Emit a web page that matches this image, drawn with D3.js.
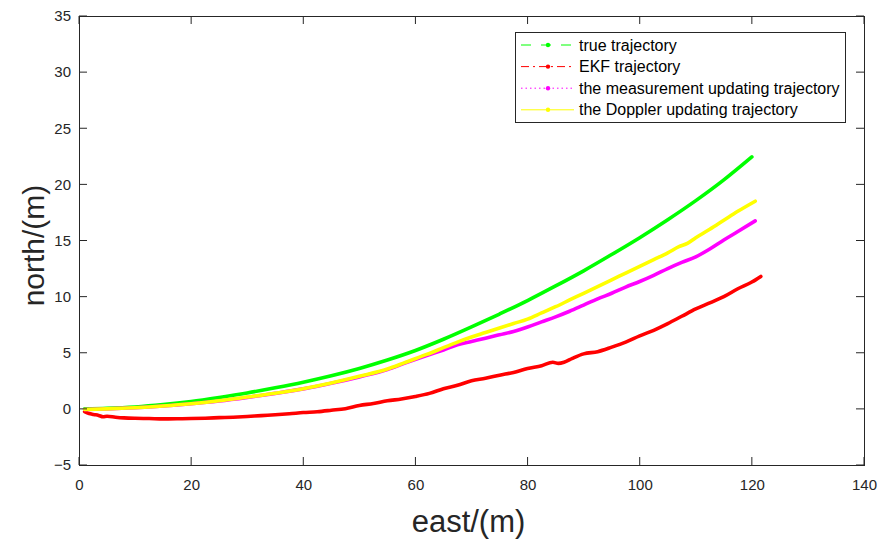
<!DOCTYPE html>
<html>
<head>
<meta charset="utf-8">
<script src="https://cdn.jsdelivr.net/npm/d3@7"></script>
<style>
  html, body { margin: 0; padding: 0; background: #fff; }
  svg { display: block; font-family: "Liberation Sans", Arial, sans-serif; }
</style>
</head>
<body>
<div id="traj"></div>
<script>
// ===== data =====
const trueEast  = [1, 5, 10, 15, 20, 25, 30, 35, 40, 45, 50, 55, 60, 65, 70, 75, 80, 85, 90, 95, 100, 105, 110, 115, 120];
const trueNorth = [0, 0.05, 0.17, 0.38, 0.66, 1.02, 1.42, 1.88, 2.38, 2.95, 3.6, 4.35, 5.2, 6.2, 7.3, 8.45, 9.65, 10.95, 12.3, 13.75, 15.25, 16.85, 18.55, 20.4, 22.45];

const ekfEast  = [1, 1.8, 2.6, 3.5, 4.3, 5, 6.5, 8, 10, 12.5, 15, 17.5, 20, 22.5, 25, 27.5, 30, 32.5, 35, 37.5, 40, 42.5, 45, 47.5, 50, 52.5, 55, 57.5, 60, 62.5, 65, 67.5, 70, 72.5, 75, 77.5, 80, 82.5, 84.5, 85.5, 86.5, 88, 90, 92.5, 95, 97.5, 100, 102.5, 105, 107.5, 110, 112.5, 115, 117.5, 120, 121.6];
const ekfNorth = [-0.25, -0.42, -0.5, -0.58, -0.7, -0.66, -0.74, -0.8, -0.84, -0.86, -0.89, -0.88, -0.86, -0.83, -0.78, -0.74, -0.68, -0.6, -0.53, -0.44, -0.33, -0.25, -0.12, 0.02, 0.3, 0.48, 0.72, 0.88, 1.1, 1.38, 1.8, 2.1, 2.5, 2.72, 3.0, 3.25, 3.6, 3.85, 4.15, 4.05, 4.15, 4.5, 4.9, 5.1, 5.5, 5.95, 6.5, 7.0, 7.6, 8.25, 8.9, 9.45, 10.0, 10.7, 11.3, 11.8];

const measEast  = [1, 5, 10, 15, 20, 25, 30, 35, 40, 45, 50, 55, 58, 62, 65, 67.5, 70, 72.5, 75, 77.5, 80, 82.5, 85, 87.5, 90, 92.5, 95, 97.5, 100, 102.5, 105, 107.5, 110, 112.5, 115, 117.5, 120.6];
const measNorth = [-0.05, 0.0, 0.1, 0.25, 0.45, 0.7, 1.02, 1.38, 1.78, 2.28, 2.85, 3.5, 4.05, 4.75, 5.25, 5.7, 6.0, 6.3, 6.6, 6.9, 7.3, 7.75, 8.2, 8.7, 9.25, 9.8, 10.3, 10.85, 11.35, 11.9, 12.5, 13.05, 13.55, 14.25, 15.05, 15.8, 16.75];

const dopEast  = [1, 5, 10, 15, 20, 25, 30, 35, 40, 45, 50, 55, 58, 62, 65, 67.5, 70, 72.5, 75, 77.5, 80, 82.5, 85, 87.5, 90, 92.5, 95, 97.5, 100, 102.5, 105, 107, 108.5, 110, 112.5, 115, 117.5, 120.6];
const dopNorth = [-0.05, 0.0, 0.1, 0.25, 0.45, 0.72, 1.05, 1.4, 1.8, 2.3, 2.9, 3.55, 4.1, 4.85, 5.45, 5.95, 6.4, 6.8, 7.2, 7.6, 8.0, 8.55, 9.1, 9.7, 10.3, 10.9, 11.5, 12.1, 12.7, 13.3, 13.9, 14.45, 14.75, 15.25, 16.0, 16.8, 17.6, 18.5];

const seriesNames  = ["true trajectory", "EKF trajectory", "the measurement updating trajectory", "the Doppler updating trajectory"];
const seriesColors = ["#00ff00", "#ff0000", "#ff00ff", "#ffff00"];
const seriesDash   = ["10,10", "8,4,2,4", "1.5,3", null];

const xTicks = [0, 20, 40, 60, 80, 100, 120, 140];
const yTicks = [-5, 0, 5, 10, 15, 20, 25, 30, 35];

(function () {
    const W = 881, H = 543;
    const PLOT = { left: 79, top: 16, right: 864, bottom: 465 };
    const TICK = 8;
    const AX = "#262626";

    const svg = d3.select("#traj").append("svg").attr("width", W).attr("height", H);

    const x = d3.scaleLinear().domain([0, 140]).range([PLOT.left, PLOT.right]);
    const y = d3.scaleLinear().domain([-5, 35]).range([PLOT.bottom, PLOT.top]);

    // ---- curves ----
    const series = [
        d3.zip(trueEast, trueNorth),
        d3.zip(ekfEast, ekfNorth),
        d3.zip(measEast, measNorth),
        d3.zip(dopEast, dopNorth)
    ];
    const line = d3.line().x(d => x(d[0])).y(d => y(d[1])).curve(d3.curveMonotoneX);

    const plot = svg.append("g");
    series.forEach((s, i) => {
        plot.append("path")
            .datum(s)
            .attr("d", line)
            .attr("fill", "none")
            .attr("stroke", seriesColors[i])
            .attr("stroke-width", 3.6)
            .attr("stroke-linecap", "round")
            .attr("stroke-linejoin", "round");
    });

    // ---- axes (box with inward ticks) ----
    const axes = svg.append("g").attr("fill", AX);

    const bottom = d3.axisBottom(x).tickValues(xTicks).tickSize(0).tickPadding(14);
    axes.append("g").attr("transform", `translate(0,${PLOT.bottom})`).call(bottom)
        .call(g => g.select(".domain").remove())
        .selectAll("text").attr("fill", AX).style("font-size", "15px");

    const left = d3.axisLeft(y).tickValues(yTicks).tickSize(0).tickPadding(8);
    axes.append("g").attr("transform", `translate(${PLOT.left},0)`).call(left)
        .call(g => g.select(".domain").remove())
        .selectAll("text").attr("fill", AX).style("font-size", "15px");

    const ticks = svg.append("g").attr("stroke", AX).attr("stroke-width", 1);
    xTicks.forEach(t => {
        ticks.append("line").attr("x1", x(t)).attr("x2", x(t)).attr("y1", PLOT.bottom).attr("y2", PLOT.bottom - TICK);
        ticks.append("line").attr("x1", x(t)).attr("x2", x(t)).attr("y1", PLOT.top).attr("y2", PLOT.top + TICK);
    });
    yTicks.forEach(t => {
        ticks.append("line").attr("x1", PLOT.left).attr("x2", PLOT.left + TICK).attr("y1", y(t)).attr("y2", y(t));
        ticks.append("line").attr("x1", PLOT.right).attr("x2", PLOT.right - TICK).attr("y1", y(t)).attr("y2", y(t));
    });
    svg.append("rect")
        .attr("x", PLOT.left + 0.5).attr("y", PLOT.top + 0.5)
        .attr("width", PLOT.right - PLOT.left).attr("height", PLOT.bottom - PLOT.top)
        .attr("fill", "none").attr("stroke", AX).attr("stroke-width", 1);

    // ---- axis labels ----
    svg.append("text")
        .attr("x", (PLOT.left + PLOT.right) / 2 - 3)
        .attr("y", 532)
        .attr("text-anchor", "middle")
        .attr("fill", AX)
        .style("font-size", "31px")
        .text("east/(m)");

    svg.append("text")
        .attr("transform", `translate(44,${(PLOT.top + PLOT.bottom) / 2 + 5}) rotate(-90)`)
        .attr("text-anchor", "middle")
        .attr("fill", AX)
        .style("font-size", "30px")
        .text("north/(m)");

    // ---- legend ----
    const LG = { x: 515, y: 32, w: 330, h: 90 };
    const lg = svg.append("g");
    lg.append("rect")
        .attr("x", LG.x + 0.5).attr("y", LG.y + 0.5)
        .attr("width", LG.w).attr("height", LG.h)
        .attr("fill", "#fff").attr("stroke", AX).attr("stroke-width", 1);

    seriesNames.forEach((name, i) => {
        const cy = 45 + i * 21.6;
        lg.append("line")
            .attr("x1", 521).attr("x2", 574).attr("y1", cy).attr("y2", cy)
            .attr("stroke", seriesColors[i]).attr("stroke-width", 1)
            .attr("stroke-dasharray", seriesDash[i]);
        lg.append("circle")
            .attr("cx", 548).attr("cy", cy).attr("r", 2.2)
            .attr("fill", seriesColors[i]);
        lg.append("text")
            .attr("x", 579).attr("y", cy).attr("dy", "0.35em")
            .attr("fill", "#000")
            .style("font-size", "16px")
            .text(name);
    });
})();
</script>
</body>
</html>
